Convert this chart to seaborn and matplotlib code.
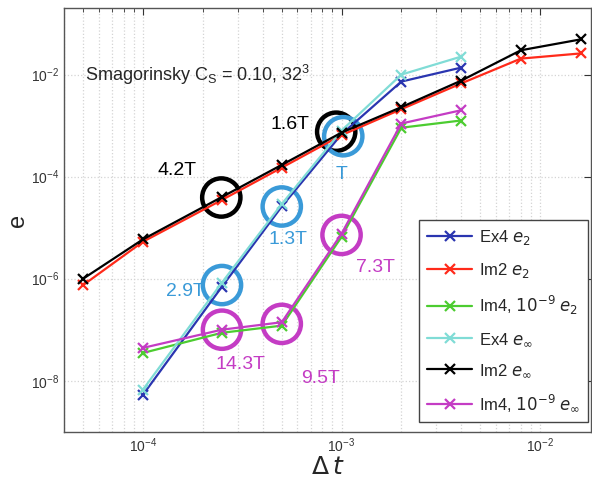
import numpy as np
import pandas as pd
import matplotlib
matplotlib.use("Agg")
import matplotlib.pyplot as plt
import matplotlib.ticker as mticker
import seaborn as sns

# time steps
dt_ex4 = [1e-4, 2.5e-4, 5e-4, 1e-3, 2e-3, 4e-3]
dt_im2 = [5e-5, 1e-4, 2.5e-4, 5e-4, 1e-3, 2e-3, 4e-3, 8e-3, 1.6e-2]
dt_im4 = [1e-4, 2.5e-4, 5e-4, 1e-3, 2e-3, 4e-3]

# errors
ex4_e2 = [5.3e-9, 7.0e-7, 2.6e-5, 6.8e-4, 7.3e-3, 1.37e-2]
im2_e2 = [7.5e-7, 5.3e-6, 3.5e-5, 1.5e-4, 6.5e-4, 2.1e-3, 6.7e-3, 2.06e-2, 2.6e-2]
im4_e2 = [3.5e-8, 8.7e-8, 1.2e-7, 6.6e-6, 9.1e-4, 1.26e-3]
ex4_einf = [6.7e-9, 8.4e-7, 2.9e-5, 8.0e-4, 1.0e-2, 2.25e-2]
im2_einf = [1.0e-6, 5.9e-6, 4.0e-5, 1.7e-4, 7.3e-4, 2.3e-3, 7.6e-3, 3.0e-2, 4.9e-2]
im4_einf = [4.4e-8, 1.0e-7, 1.4e-7, 7.6e-6, 1.1e-3, 2.0e-3]

series = [
    ("Ex4 $e_2$", dt_ex4, ex4_e2, "#2a35b0"),
    ("Im2 $e_2$", dt_im2, im2_e2, "#ff2a1a"),
    ("Im4, $10^{-9}$ $e_2$", dt_im4, im4_e2, "#4ccc30"),
    ("Ex4 $e_\\infty$", dt_ex4, ex4_einf, "#80dcd6"),
    ("Im2 $e_\\infty$", dt_im2, im2_einf, "#000000"),
    ("Im4, $10^{-9}$ $e_\\infty$", dt_im4, im4_einf, "#c43cc4"),
]

# circled points and their annotations
circ_dt = [2.48e-4, 9.4e-4, 5e-4, 1.02e-3, 2.5e-4, 2.5e-4, 5e-4, 1e-3]
circ_e = [3.9e-5, 7.6e-4, 2.6e-5, 6.2e-4, 7.5e-7, 1.0e-7, 1.3e-7, 7.2e-6]
circ_lab = ["4.2T", "1.6T", "1.3T", "T", "2.9T", "14.3T", "9.5T", "7.3T"]
lab_dt = [1.49e-4, 5.5e-4, 5.4e-4, 1.0e-3, 1.63e-4, 3.1e-4, 7.8e-4, 1.49e-3]
lab_e = [1.3e-4, 1.05e-3, 5.8e-6, 1.1e-4, 5.6e-7, 2.06e-8, 1.12e-8, 1.64e-6]
circ_col = ["black", "black", "#3a9ad8", "#3a9ad8", "#3a9ad8", "#c43cc4", "#c43cc4", "#c43cc4"]

sns.set_style("whitegrid")
plt.rcParams["font.family"] = ["Liberation Sans", "DejaVu Sans"]

fig = plt.figure(figsize=(5.92, 4.84), dpi=100)
ax = fig.add_axes([0.108, 0.108, 0.89, 0.875])

for name, x, y, c in series:
    df = pd.DataFrame({"dt": x, "e": y})
    sns.lineplot(data=df, x="dt", y="e", color=c, marker="x", markersize=7,
                 markeredgewidth=1.6, markeredgecolor=c, linewidth=1.6,
                 label=name, ax=ax)

ax.set_xscale("log")
ax.set_yscale("log")
ax.set_xlim(4e-5, 1.8e-2)
ax.set_ylim(1e-9, 0.2)

sns.scatterplot(x=circ_dt, y=circ_e, s=760, marker="o", legend=False, ax=ax)
coll = ax.collections[-1]
coll.set_facecolor("none")
coll.set_edgecolor(circ_col)
coll.set_linewidth(3.2)

for x, y, t, c in zip(lab_dt, lab_e, circ_lab, circ_col):
    ax.text(x, y, t, color=c, fontsize=14, ha="center", va="center")

ax.text(5.1e-5, 1e-2, "Smagorinsky C$_\\mathregular{S}$ = 0.10, 32$^\\mathregular{3}$",
        fontsize=13, ha="left", va="center")

ax.set_xticks([1e-4, 1e-3, 1e-2])
ax.set_yticks([1e-8, 1e-6, 1e-4, 1e-2])
ax.yaxis.set_minor_locator(mticker.NullLocator())
ax.grid(True, which="major", color="#d4d4d4", linestyle=":", linewidth=0.9)
ax.grid(True, which="minor", axis="x", color="#d4d4d4", linestyle=":", linewidth=0.9)
ax.tick_params(which="both", direction="in", top=True, right=True, labelsize=10, colors="#333333")
ax.tick_params(which="major", length=5)
ax.tick_params(which="minor", length=3)
for s in ax.spines.values():
    s.set_color("#555555")
    s.set_linewidth(1.0)

ax.set_xlabel("$\\Delta\\, t$", fontsize=18, labelpad=0)
ax.set_ylabel("e", fontsize=17)
ax.yaxis.set_label_coords(-0.066, 0.5)

leg = ax.legend(loc="lower right", bbox_to_anchor=(1.005, 0.01), fontsize=12, frameon=True,
                fancybox=False, edgecolor="#444444", framealpha=1, handlelength=2.7,
                labelspacing=0.85, borderaxespad=0.3, handletextpad=0.4, borderpad=0.5)
leg.get_frame().set_linewidth(1.0)

fig.savefig("out.png", dpi=100)
